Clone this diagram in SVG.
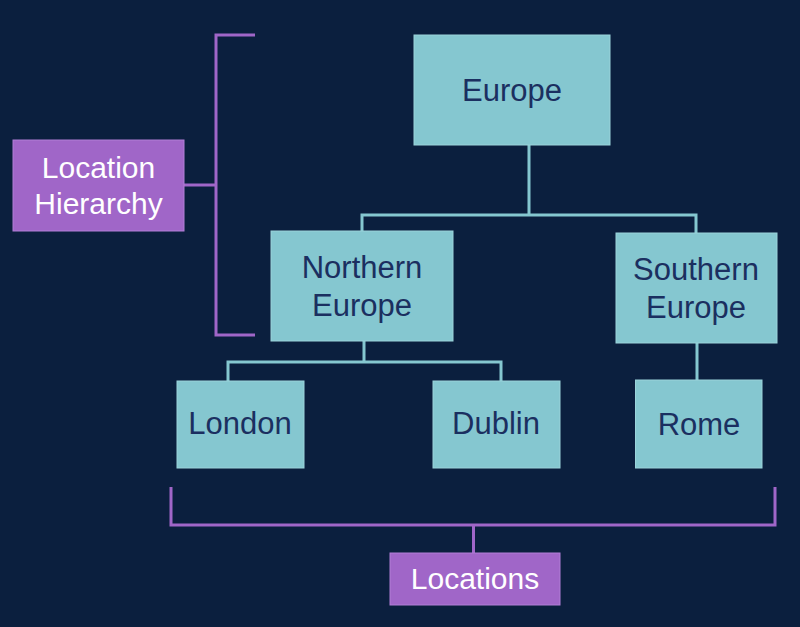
<svg xmlns="http://www.w3.org/2000/svg" width="800" height="627" viewBox="0 0 800 627">
<style>
.node rect{fill:#85C7D0;stroke:#9BD3DA;stroke-width:1}
.node text{font-family:"Liberation Sans",Arial,sans-serif;font-size:31px;fill:#1B2F60;text-anchor:middle}
.label rect{fill:#A066C8;stroke:#B27ED6;stroke-width:1}
.label text{font-family:"Liberation Sans",Arial,sans-serif;font-size:30px;fill:#FFFFFF;text-anchor:middle}
.conn{fill:none;stroke:#85C7D0;stroke-width:3}
.brk{fill:none;stroke:#A066C8;stroke-width:3}
</style>
<rect x="0" y="0" width="800" height="627" fill="#0B1F3E"/>
<g id="connectors">
<path class="conn" d="M529 145 V215 M362 231 V215 H696 V233 M364 341 V362 M228 381 V362 H501 V381 M697 343 V380"/>
<path class="brk" d="M255 35 H216 V335 H255 M184 185 H216"/>
<path class="brk" d="M171 487 V525 H775 V487 M473.5 525 V553"/>
</g>
<g id="europe" class="node"><rect x="414" y="35" width="196" height="110"/><text x="512" y="101">Europe</text></g>
<g id="northern-europe" class="node"><rect x="271" y="231" width="182" height="110"/><text x="362" y="278">Northern</text><text x="362" y="316">Europe</text></g>
<g id="southern-europe" class="node"><rect x="616" y="233" width="161" height="110"/><text x="696" y="280">Southern</text><text x="696" y="318">Europe</text></g>
<g id="london" class="node"><rect x="177" y="381" width="127" height="87"/><text x="240" y="434">London</text></g>
<g id="dublin" class="node"><rect x="433" y="381" width="127" height="87"/><text x="496" y="434">Dublin</text></g>
<g id="rome" class="node"><rect x="635.5" y="380" width="126.5" height="88"/><text x="699" y="435">Rome</text></g>
<g id="location-hierarchy" class="label"><rect x="13" y="140" width="171" height="91"/><text x="98.5" y="178">Location</text><text x="98.5" y="214">Hierarchy</text></g>
<g id="locations" class="label"><rect x="390" y="553" width="170" height="52"/><text x="475" y="589">Locations</text></g>
</svg>
